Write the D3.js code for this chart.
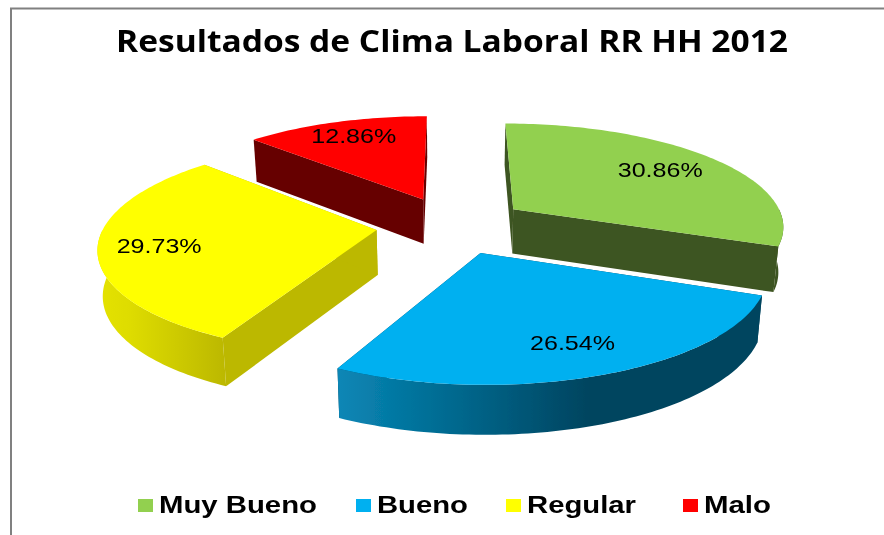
<!DOCTYPE html>
<html>
<head>
<meta charset="utf-8">
<script src="https://cdnjs.cloudflare.com/ajax/libs/d3/7.8.5/d3.min.js"></script>
<style>
  body { margin: 0; background: #fff; }
  svg { display: block; }
  .title { font-family: "Open Sans", sans-serif; font-weight: 700; font-size: 31px; }
  .pct { font-family: "Liberation Sans", sans-serif; font-size: 21px; }
  .legend-label { font-family: "Liberation Sans", sans-serif; font-weight: 700; font-size: 24px; }
</style>
</head>
<body>
<svg class="chart" width="884" height="535"></svg>
<script>
var categories = ["Muy Bueno", "Bueno", "Regular", "Malo"];
var values = [30.86, 26.54, 29.73, 12.86];
var titleText = "Resultados de Clima Laboral RR HH 2012";

var topColors = ["#92d050", "#00b0f0", "#ffff00", "#ff0000"];
var faceColors = ["#3e5420", "#00445f", "#bcb800", "#660000"];

// 3d look of the pie
var cx = 452, cy = 225, radius = 272, explode = 76,
    tilt = 0.378, persp = 0.15, thick = 45;

// where each percent label sits, hand placed like in the original
var labelRadius = [0.65, 0.77, 0.78, 0.76];
var labelShift = [[15, -5], [0, 0], [-1, 1], [-1, -4]];

var svg = d3.select("svg.chart");

var defs = svg.append("defs");
defs.append("filter").attr("id", "soft")
    .attr("x", 0).attr("y", 0).attr("width", 1).attr("height", 1)
    .attr("filterUnits", "objectBoundingBox")
  .append("feGaussianBlur").attr("stdDeviation", 0.45);

function wallGradient(id, stops) {
  var g = defs.append("linearGradient").attr("id", id)
      .attr("gradientUnits", "userSpaceOnUse")
      .attr("x1", 90).attr("x2", 780).attr("y1", 0).attr("y2", 0);
  stops.forEach(function(s) {
    g.append("stop").attr("offset", (s[0] - 90) / 690).attr("stop-color", s[1]);
  });
}
wallGradient("wall1", [[340, "#0a86b5"], [450, "#006a90"], [590, "#00445f"], [780, "#00445f"]]);
wallGradient("wall2", [[90, "#e6e400"], [130, "#dedc00"], [225, "#bcb800"], [780, "#bcb800"]]);

var root = svg.append("g").attr("filter", "url(#soft)");

root.append("rect").attr("x", 0).attr("y", 0).attr("width", 884).attr("height", 535).attr("fill", "#fff");

// frame is only visible on top and left
root.append("path")
    .attr("d", "M11,535V8.5H884")
    .attr("fill", "none")
    .attr("stroke", "#808080")
    .attr("stroke-width", 2);

root.append("text")
    .attr("class", "title")
    .attr("x", 116).attr("y", 52)
    .attr("textLength", 672)
    .attr("lengthAdjust", "spacingAndGlyphs")
    .text(titleText);

var pie = d3.pie().sort(null)(values);

function project(theta, r, mid, z) {
  var X = r * Math.sin(theta) + explode * Math.sin(mid),
      F = -r * Math.cos(theta) - explode * Math.cos(mid),
      w = 1 / (1 - persp * F / radius);
  return [
    cx + X * w * (1 - 0.015 * z),
    cy + tilt * F * w + z * thick * Math.sqrt(w)
  ];
}

var line = d3.line();

function angles(a0, a1) {
  var n = Math.max(2, Math.ceil((a1 - a0) / 0.02));
  return d3.range(n + 1).map(function(i) { return a0 + (a1 - a0) * i / n; });
}

function arcPts(a0, a1, r, mid, z) {
  return angles(a0, a1).map(function(a) { return project(a, r, mid, z); });
}

// back slices first, blue and yellow sit in front
var order = [3, 0, 2, 1];

order.forEach(function(i) {
  var d = pie[i],
      a0 = d.startAngle, a1 = d.endAngle,
      mid = (a0 + a1) / 2,
      g = root.append("g");

  // cut faces
  [a0, a1].forEach(function(a) {
    g.append("path")
        .attr("d", line([
          project(a, 0, mid, 0), project(a, radius, mid, 0),
          project(a, radius, mid, 1), project(a, 0, mid, 1)
        ]) + "Z")
        .attr("fill", faceColors[i]);
  });

  // outer wall, only the part facing front
  var f0 = Math.max(a0, Math.PI / 2), f1 = Math.min(a1, 3 * Math.PI / 2);
  if (f1 > f0) {
    var fill = i === 1 ? "url(#wall1)" : i === 2 ? "url(#wall2)" : faceColors[i];
    g.append("path")
        .attr("d", line(arcPts(f0, f1, radius, mid, 0)
            .concat(arcPts(f0, f1, radius, mid, 1).reverse())) + "Z")
        .attr("fill", fill);
  }

  // top
  g.append("path")
      .attr("d", line([project(a0, 0, mid, 0)].concat(arcPts(a0, a1, radius, mid, 0))) + "Z")
      .attr("fill", topColors[i]);
});

// percent labels
var fmt = d3.format(".2f");
pie.forEach(function(d, i) {
  var mid = (d.startAngle + d.endAngle) / 2,
      p = project(mid, radius * labelRadius[i], mid, 0);
  root.append("text")
      .attr("class", "pct")
      .attr("x", p[0] - 42.5 + labelShift[i][0])
      .attr("y", p[1] + 7.5 + labelShift[i][1])
      .attr("textLength", 85)
      .attr("lengthAdjust", "spacingAndGlyphs")
      .text(fmt(values[i]) + "%");
});

// legend
var legendX = d3.scaleOrdinal().domain(categories).range([138, 356, 506, 683]);
var legendW = d3.scaleOrdinal().domain(categories).range([158, 91, 109, 67]);

categories.forEach(function(c, i) {
  root.append("rect")
      .attr("x", legendX(c)).attr("y", 499)
      .attr("width", 15).attr("height", 13)
      .attr("fill", topColors[i]);
  root.append("text")
      .attr("class", "legend-label")
      .attr("x", legendX(c) + 21).attr("y", 513)
      .attr("textLength", legendW(c))
      .attr("lengthAdjust", "spacingAndGlyphs")
      .text(c);
});
</script>
</body>
</html>
